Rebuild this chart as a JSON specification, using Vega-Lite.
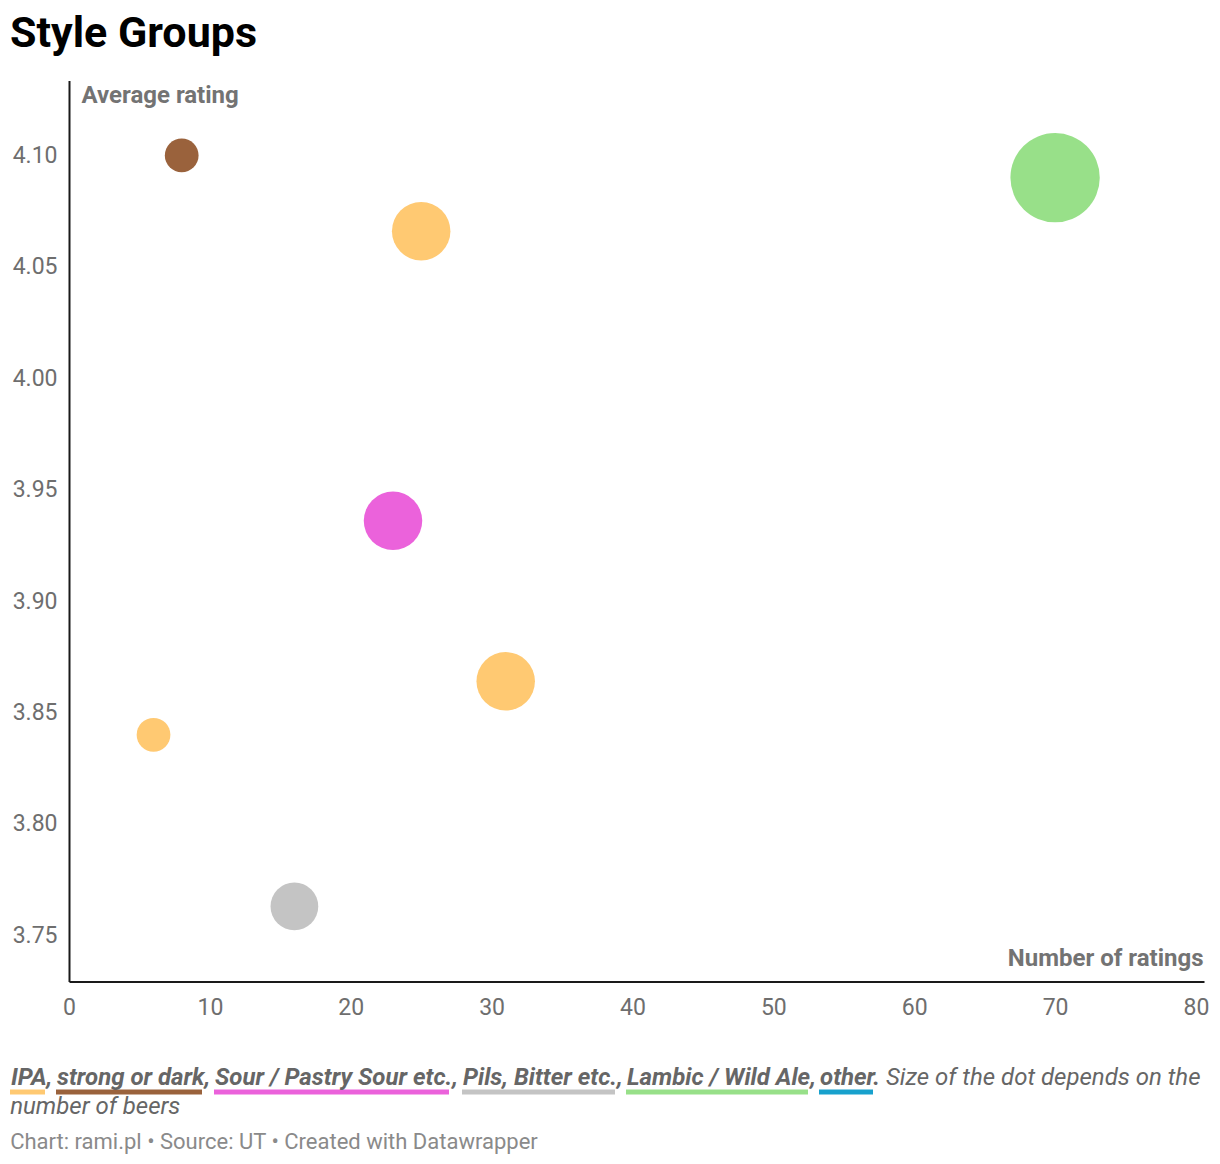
{
  "$schema": "https://vega.github.io/schema/vega-lite/v6.json",
  "padding": {"left": 7, "top": 12.5, "right": 10, "bottom": 10},
  "background": "#ffffff",
  "title": {
    "text": "Style Groups",
    "anchor": "start",
    "frame": "bounds",
    "dx": 3,
    "fontSize": 43,
    "fontWeight": "bold",
    "color": "#000000",
    "offset": 24.5
  },
  "config": {
    "font": "Roboto",
    "view": {"stroke": null}
  },
  "vconcat": [
    {
      "width": 1135,
      "height": 901,
      "title": {
        "text": "number of beers",
        "subtitle": "Chart: rami.pl • Source: UT • Created with Datawrapper",
        "orient": "bottom",
        "anchor": "start",
        "frame": "bounds",
        "dx": -2,
        "fontSize": 24,
        "fontStyle": "italic",
        "fontWeight": "normal",
        "color": "#666666",
        "subtitleFontSize": 22,
        "subtitleColor": "#8a8a8a",
        "subtitlePadding": 13,
        "offset": 75
      },
      "data": {
        "values": [
          {"style": "strong or dark", "ratings": 8, "rating": 4.1, "beers": 1},
          {"style": "IPA", "ratings": 25, "rating": 4.066, "beers": 3},
          {"style": "Lambic / Wild Ale", "ratings": 70, "rating": 4.09, "beers": 7},
          {"style": "Sour / Pastry Sour etc.", "ratings": 23, "rating": 3.936, "beers": 3},
          {"style": "IPA", "ratings": 31, "rating": 3.864, "beers": 3},
          {"style": "IPA", "ratings": 6, "rating": 3.84, "beers": 1},
          {"style": "Pils, Bitter etc.", "ratings": 16, "rating": 3.763, "beers": 2}
        ]
      },
      "mark": {"type": "circle", "opacity": 1, "strokeWidth": 0},
      "encoding": {
        "x": {
          "field": "ratings",
          "type": "quantitative",
          "scale": {"domain": [0, 80.57], "nice": false},
          "axis": {
            "values": [0, 10, 20, 30, 40, 50, 60, 70, 80],
            "title": "Number of ratings",
            "titleX": 1134,
            "titleY": -16,
            "titleAlign": "right",
            "titleAnchor": null,
            "titleBaseline": "alphabetic",
            "titleFontSize": 24,
            "titleFontWeight": "bold",
            "titleColor": "#737373",
            "grid": false,
            "ticks": false,
            "tickSize": 0,
            "labelFlush": false,
            "labelPadding": 15,
            "labelFontSize": 23,
            "labelColor": "#6e6e6e",
            "domainColor": "#1a1a1a",
            "domainWidth": 2
          }
        },
        "y": {
          "field": "rating",
          "type": "quantitative",
          "scale": {"domain": [3.7293, 4.1336], "nice": false, "zero": false},
          "axis": {
            "values": [3.75, 3.8, 3.85, 3.9, 3.95, 4.0, 4.05, 4.1],
            "format": ".2f",
            "title": "Average rating",
            "titleAngle": 0,
            "titleX": 12,
            "titleY": 22,
            "titleAlign": "left",
            "titleAnchor": null,
            "titleBaseline": "alphabetic",
            "titleFontSize": 24,
            "titleFontWeight": "bold",
            "titleColor": "#737373",
            "grid": false,
            "ticks": false,
            "tickSize": 0,
            "labelFlush": false,
            "labelPadding": 12,
            "labelFontSize": 23,
            "labelColor": "#6e6e6e",
            "domainColor": "#1a1a1a",
            "domainWidth": 2
          }
        },
        "size": {
          "field": "beers",
          "type": "quantitative",
          "scale": {"type": "linear", "domain": [0, 7], "range": [0, 7980]},
          "legend": null
        },
        "color": {
          "field": "style",
          "type": "nominal",
          "scale": {
            "domain": ["IPA", "strong or dark", "Sour / Pastry Sour etc.", "Pils, Bitter etc.", "Lambic / Wild Ale", "other"],
            "range": ["#ffc972", "#9a623c", "#eb62db", "#c4c4c4", "#98e089", "#18a1cd"]
          },
          "legend": {
            "orient": "none",
            "legendX": -62,
            "legendY": 985,
            "direction": "horizontal",
            "title": "Size of the dot depends on the",
            "titleOrient": "right",
            "titleFontSize": 24,
            "titleFontStyle": "italic",
            "titleFontWeight": "normal",
            "titleColor": "#666666",
            "titleLimit": 600,
            "titlePadding": 6,
            "titleBaseline": "middle",
            "labelExpr": "datum.label + (datum.value == 'other' ? '.' : ',')",
            "labelFontSize": 24,
            "labelFontStyle": "italic",
            "labelFontWeight": "bold",
            "labelColor": "#666666",
            "labelLimit": 400,
            "labelOffset": -20,
            "columnPadding": 0,
            "symbolSize": 4,
            "symbolStrokeWidth": 0,
            "symbolOpacity": 1,
            "encode": {
              "title": {
                "update": {"dy": {"value": -3}}
              },
              "symbols": {
                "update": {
                  "shape": {
                    "signal": "datum.value == 'IPA' ? 'M-9 12h35v5h-35z' : datum.value == 'strong or dark' ? 'M-9 12h146v5h-146z' : datum.value == 'Sour / Pastry Sour etc.' ? 'M-9 12h235v5h-235z' : datum.value == 'Pils, Bitter etc.' ? 'M-9 12h153v5h-153z' : datum.value == 'Lambic / Wild Ale' ? 'M-9 12h182v5h-182z' : 'M-9 12h54v5h-54z'"
                  }
                }
              }
            }
          }
        }
      }
    }
  ]
}
